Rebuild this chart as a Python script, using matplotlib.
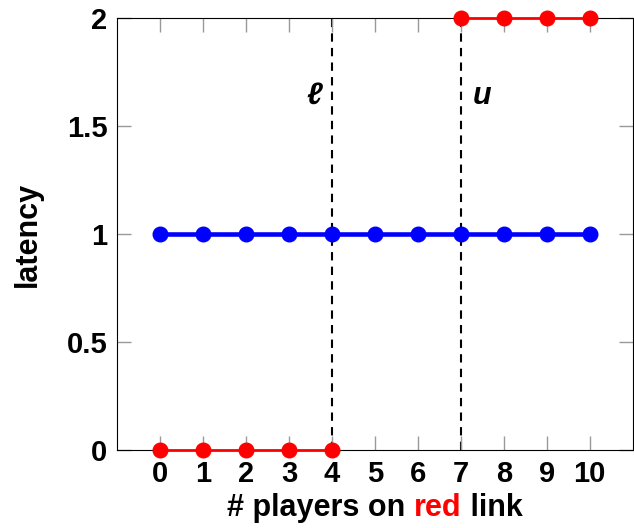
import matplotlib.pyplot as plt

plt.rcParams['font.family'] = ['Liberation Sans', 'DejaVu Sans']
plt.rcParams['font.weight'] = 'bold'

players = list(range(11))
blue_latency = [1] * 11
red_low_x = [0, 1, 2, 3, 4]
red_low_y = [0, 0, 0, 0, 0]
red_high_x = [7, 8, 9, 10]
red_high_y = [2, 2, 2, 2]
thresholds = [4, 7]
threshold_labels = ['ℓ', 'u']
yticks = [0, 0.5, 1, 1.5, 2]
ytick_labels = ['0', '0.5', '1', '1.5', '2']

fig = plt.figure(figsize=(6.34, 5.28), dpi=100)
ax = fig.add_axes([0.1845, 0.1477, 0.8135, 0.8183])

for t in thresholds:
    ax.plot([t, t], [0, 2], color='black', linestyle=(0, (4, 3)), linewidth=1.5, zorder=1)

ax.plot(players, blue_latency, color='blue', linewidth=3.3, marker='o', markersize=10.5, zorder=3, clip_on=False)
ax.plot(red_low_x, red_low_y, color='red', linewidth=2, marker='o', markersize=10.5, zorder=3, clip_on=False)
ax.plot(red_high_x, red_high_y, color='red', linewidth=2, marker='o', markersize=10.5, zorder=3, clip_on=False)

ax.text(3.6, 1.64, threshold_labels[0], fontsize=22, fontweight='bold', fontstyle='italic', ha='center', va='center')
ax.text(7.5, 1.64, threshold_labels[1], fontsize=22, fontweight='bold', fontstyle='italic', ha='center', va='center')

ax.set_xlim(-1, 11)
ax.set_ylim(0, 2)
ax.set_xticks(players)
ax.set_yticks(yticks)
ax.set_yticklabels(ytick_labels)
ax.tick_params(direction='in', length=10, width=1, color='#999999', labelsize=21,
               top=True, right=True, pad=7)
for lab in ax.get_xticklabels() + ax.get_yticklabels():
    lab.set_fontweight('bold')

ax.set_ylabel('latency', fontsize=22, fontweight='bold', labelpad=17)
ax.set_xlabel('# players on red link', fontsize=22, fontweight='bold', labelpad=4, color='white')
fig.canvas.draw()
# coloured word in the x label
xl = ax.xaxis.label
bb = xl.get_window_extent()
inv = fig.transFigure.inverted()
parts = [('# players on ', 'black'), ('red', 'red'), (' link', 'black')]
x0, y0 = inv.transform((bb.x0, bb.y0))
xpos = x0
r = fig.canvas.get_renderer()
for s, c in parts:
    t = fig.text(xpos, y0, s, fontsize=22, fontweight='bold', color=c, ha='left', va='bottom')
    w = t.get_window_extent(renderer=r).width
    xpos += w / fig.bbox.width
xl.set_visible(False)

plt.savefig('out.png')
